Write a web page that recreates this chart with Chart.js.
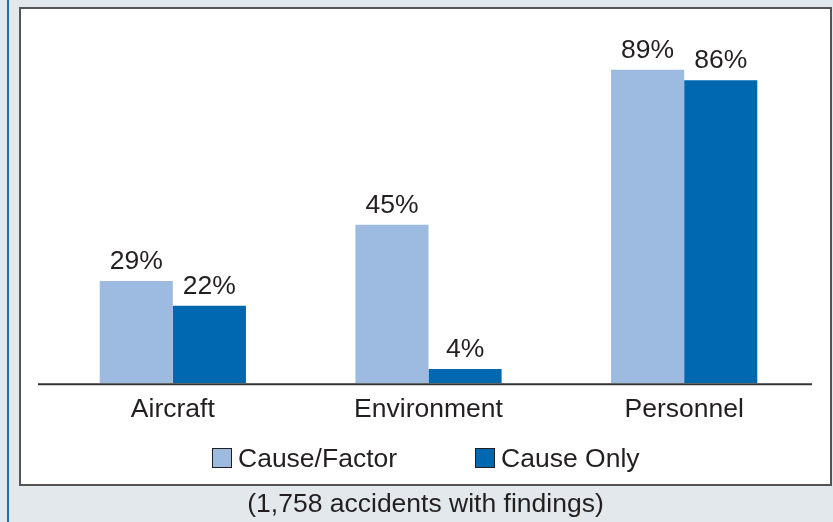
<!DOCTYPE html>
<html>
<head>
<meta charset="utf-8">
<script src="https://cdn.jsdelivr.net/npm/chart.js@4/dist/chart.umd.min.js"></script>
<style>
  html, body { margin: 0; padding: 0; }
  body {
    width: 833px; height: 522px; position: relative; overflow: hidden;
    background: #e3e8ec;
    font-family: "Liberation Sans", Arial, sans-serif;
    color: #231f20;
  }
  .rule { position: absolute; left: 7px; top: 0; width: 2px; height: 522px; background: #1a6fb5; }
  .panel {
    position: absolute; left: 19px; top: 7px; width: 809px; height: 475px;
    background: #fff; border: 2px solid #555;
  }
  #chart { position: absolute; left: 0; top: 0; }
  .legend { position: absolute; left: 212px; top: 445px; display: flex; align-items: center; font-size: 26.5px; line-height: 26px; }
  .legend .item { display: flex; align-items: center; }
  .legend .item + .item { margin-left: 78px; }
  .legend .box { width: 18px; height: 18px; border: 1px solid #231f20; margin-right: 6px; }
  .footer { position: absolute; left: 19px; width: 813px; top: 490px; text-align: center; font-size: 26.5px; line-height: 26px; }
</style>
</head>
<body>
<div class="rule"></div>
<div class="panel"></div>
<canvas id="chart" width="833" height="522"></canvas>
<div class="legend" id="legend"></div>
<div class="footer">(1,758 accidents with findings)</div>
<script>
// ---- data ----
var categories = ['Aircraft', 'Environment', 'Personnel'];
var causeFactor = [29, 45, 89];
var causeOnly = [22, 4, 86];
var seriesNames = ['Cause/Factor', 'Cause Only'];
var seriesColors = ['#9dbbe1', '#0067b1'];

var FONT = '"Liberation Sans", Arial, sans-serif';
var INK = '#231f20';

// value labels above each bar
var valueLabels = {
  id: 'valueLabels',
  afterDatasetsDraw: function (chart) {
    var ctx = chart.ctx;
    ctx.save();
    ctx.font = '26.5px ' + FONT;
    ctx.fillStyle = INK;
    ctx.textAlign = 'center';
    ctx.textBaseline = 'alphabetic';
    chart.data.datasets.forEach(function (ds, di) {
      chart.getDatasetMeta(di).data.forEach(function (bar, i) {
        ctx.fillText(ds.data[i] + '%', bar.x, bar.y - 12);
      });
    });
    ctx.restore();
  }
};

// baseline runs a bit past the left end of the category axis
var baseline = {
  id: 'baseline',
  afterDraw: function (chart) {
    var ctx = chart.ctx, y = chart.scales.y.getPixelForValue(0);
    ctx.save();
    ctx.strokeStyle = '#333';
    ctx.lineWidth = 2;
    ctx.beginPath();
    ctx.moveTo(38, y + 1);
    ctx.lineTo(chart.chartArea.right, y + 1);
    ctx.stroke();
    ctx.restore();
  }
};

new Chart(document.getElementById('chart'), {
  type: 'bar',
  data: {
    labels: categories,
    datasets: [
      { label: seriesNames[0], data: causeFactor, backgroundColor: seriesColors[0], borderWidth: 0 },
      { label: seriesNames[1], data: causeOnly, backgroundColor: seriesColors[1], borderWidth: 0 }
    ]
  },
  options: {
    responsive: false,
    animation: false,
    devicePixelRatio: 1,
    layout: { padding: { left: 45, right: 21, top: 31, bottom: 85 } },
    datasets: { bar: { categoryPercentage: 0.572, barPercentage: 1 } },
    plugins: { legend: { display: false }, tooltip: { enabled: false } },
    scales: {
      x: {
        grid: { display: false, drawTicks: false },
        border: { display: false },
        ticks: { color: INK, font: { family: FONT, size: 26.5 }, padding: 11 }
      },
      y: { display: false, min: 0, max: 100 }
    }
  },
  plugins: [valueLabels, baseline]
});

// legend
var legend = document.getElementById('legend');
seriesNames.forEach(function (name, i) {
  var item = document.createElement('div');
  item.className = 'item';
  var box = document.createElement('span');
  box.className = 'box';
  box.style.background = seriesColors[i];
  item.appendChild(box);
  item.appendChild(document.createTextNode(name));
  legend.appendChild(item);
});
</script>
</body>
</html>
